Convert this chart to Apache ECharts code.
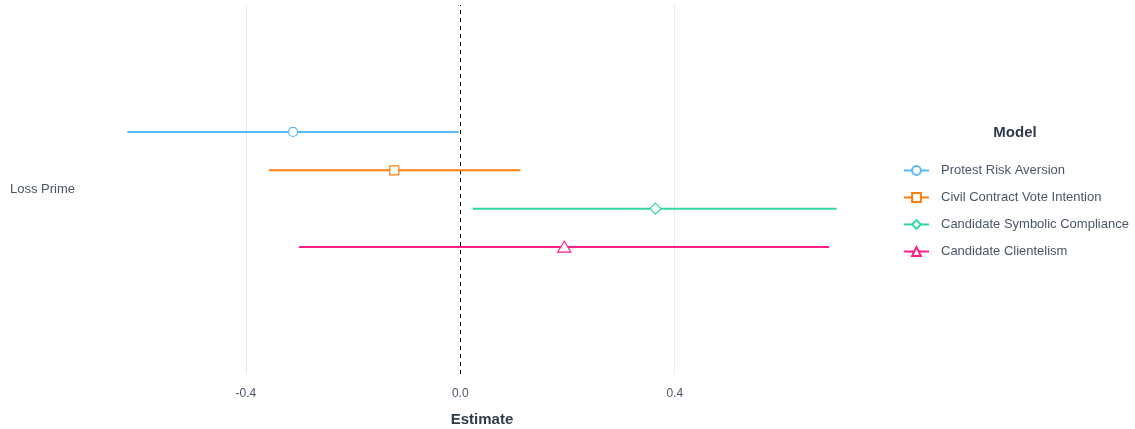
<!DOCTYPE html>
<html>
<head>
<meta charset="utf-8">
<script src="https://cdn.jsdelivr.net/npm/echarts@6/dist/echarts.min.js"></script>
<style>html,body{margin:0;padding:0;background:#fff;}#c{width:1135px;height:429px;}</style>
</head>
<body>
<div id="c"></div>
<script>
const categories = ['Loss Prime'];
const models = ['Protest Risk Aversion', 'Civil Contract Vote Intention', 'Candidate Symbolic Compliance', 'Candidate Clientelism'];
const estimates = [-0.312, -0.123, 0.364, 0.194];
const lowerCI = [-0.621, -0.357, 0.023, -0.301];
const upperCI = [-0.003, 0.112, 0.702, 0.688];
const xTicks = [-0.4, 0.0, 0.4];

const colors = ['#56b9f5', '#ff7f0e', '#34d89c', '#ff1f8a'];
const symbols = ['emptyCircle', 'emptyRect', 'emptyDiamond', 'emptyTriangle'];
const shapes = ['circle', 'rect', 'diamond', 'triangle'];
const FONT = 'Liberation Sans, Arial, sans-serif';
const TXT = '#4a5568';

function markerShape(kind, x, y, color) {
  const style = { fill: '#fff', stroke: color, lineWidth: 1.2 };
  if (kind === 'circle') return { type: 'circle', shape: { cx: x, cy: y, r: 4.5 }, style };
  if (kind === 'rect') return { type: 'rect', shape: { x: x - 4.5, y: y - 4.5, width: 9, height: 9 }, style };
  if (kind === 'diamond') return { type: 'polygon', shape: { points: [[x, y - 5.5], [x + 5.5, y], [x, y + 5.5], [x - 5.5, y]] }, style };
  return { type: 'polygon', shape: { points: [[x, y - 6], [x + 6.5, y + 5], [x - 6.5, y + 5]] }, style };
}

const n = models.length;
const series = [];
// legend proxies (line + symbol icons)
models.forEach((m, k) => {
  series.push({
    type: 'line', name: m, data: [], symbol: symbols[k], symbolSize: 8,
    itemStyle: { color: colors[k] }, lineStyle: { color: colors[k], width: 2 }
  });
});
// reference / grid lines
series.push({
  type: 'line', data: [], silent: true, z: 1,
  markLine: {
    silent: true, symbol: ['none', 'none'], label: { show: false },
    data: [
      { xAxis: xTicks[0], lineStyle: { color: '#ebebeb', width: 1, type: 'solid' } },
      { xAxis: xTicks[2], lineStyle: { color: '#ebebeb', width: 1, type: 'solid' } },
      { xAxis: 0, lineStyle: { color: '#000', width: 1, type: [4, 4] } }
    ]
  }
});
models.forEach((m, k) => {
  series.push({
    type: 'custom', name: m, z: 5,
    encode: { x: [0, 1, 2], y: 3 },
    data: [[lowerCI[k], estimates[k], upperCI[k], 0]],
    renderItem: function (params, api) {
      const cat = api.value(3);
      const lo = api.coord([api.value(0), cat]);
      const est = api.coord([api.value(1), cat]);
      const hi = api.coord([api.value(2), cat]);
      const band = api.size([0, 1])[1];
      const y = lo[1] + (k - (n - 1) / 2) * band * 0.104;
      return {
        type: 'group',
        children: [
          { type: 'line', shape: { x1: lo[0], y1: y, x2: hi[0], y2: y }, style: { stroke: colors[k], lineWidth: 2 } },
          markerShape(shapes[k], est[0], y, colors[k])
        ]
      };
    }
  });
});

const chart = echarts.init(document.getElementById('c'));
chart.setOption({
  animation: false,
  backgroundColor: '#fff',
  textStyle: { fontFamily: FONT },
  color: colors,
  title: {
    text: 'Model', left: 1010, top: 120, textAlign: 'center',
    textStyle: { fontFamily: FONT, fontSize: 15, fontWeight: 'bold', color: '#2d3b4e' }
  },
  legend: {
    orient: 'vertical', left: 898, top: 159, itemWidth: 25, itemHeight: 11, itemGap: 14,
    data: models,
    textStyle: { fontFamily: FONT, fontSize: 13, color: TXT, padding: [0, 0, 0, 7] }
  },
  grid: { left: 92, right: 263, top: 5, bottom: 55, containLabel: false, outerBoundsMode: 'none' },
  xAxis: {
    type: 'value', min: -0.687, max: 0.768,
    name: 'Estimate', nameLocation: 'middle', nameGap: 38,
    nameTextStyle: { fontFamily: FONT, fontSize: 15, fontWeight: 'bold', color: '#2d3b4e' },
    axisLine: { show: false }, axisTick: { show: false }, splitLine: { show: false },
    axisLabel: {
      customValues: xTicks, margin: 14, fontFamily: FONT, fontSize: 12, color: TXT,
      formatter: v => v.toFixed(1)
    }
  },
  yAxis: {
    type: 'category', data: categories,
    axisLine: { show: false }, axisTick: { show: false }, splitLine: { show: false },
    axisLabel: { align: 'left', margin: 82, fontFamily: FONT, fontSize: 13, color: TXT, padding: [6, 0, 0, 0] }
  },
  series
});
</script>
</body>
</html>
